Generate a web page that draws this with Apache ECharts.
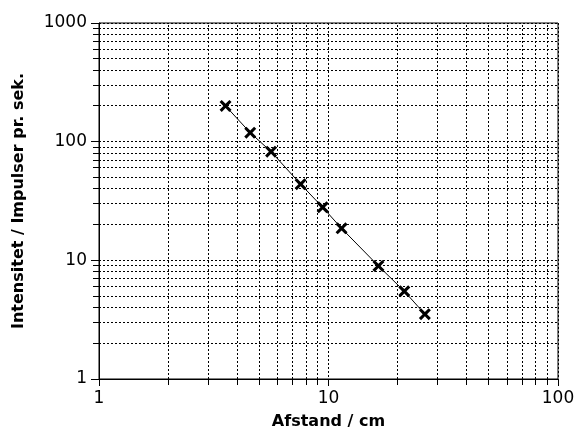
<!DOCTYPE html>
<html>
<head>
<meta charset="utf-8">
<script src="https://cdn.jsdelivr.net/npm/echarts@6/dist/echarts.min.js"></script>
<style>
html,body{margin:0;padding:0;background:#fff;}
#chart{width:577px;height:430px;}
</style>
</head>
<body>
<div id="chart"></div>
<script>
// Data
const distance = [3.56, 4.56, 5.62, 7.56, 9.43, 11.4, 16.5, 21.4, 26.3];
const intensity = [200, 119, 82.4, 43.8, 28.0, 18.6, 8.97, 5.49, 3.52];

// Minor grid values (log decades)
const xMinorGrid = [2,3,4,5,6,7,8,9,20,30,40,50,60,70,80,90];
const yMinorGrid = [2,3,4,5,6,7,8,9,20,30,40,50,60,70,80,90,200,300,400,500,600,700,800,900];

const xTitle = 'Afstand / cm';
const yTitle = 'Intensitet / Impulser pr. sek.';

const X_MIN = 1, X_MAX = 100, Y_MIN = 1, Y_MAX = 1000;
const dash = [2, 2];
const fontFam = 'DejaVu Sans, Liberation Sans, Arial, sans-serif';

function snap(v){ return Math.round(v - 0.5) + 0.5; }

const chart = echarts.init(document.getElementById('chart'), null, {renderer:'canvas'});

const xMark = 'path://M0,1.8L1.8,0L5,3.2L8.2,0L10,1.8L6.8,5L10,8.2L8.2,10L5,6.8L1.8,10L0,8.2L3.2,5Z';

chart.setOption({
  animation: false,
  backgroundColor: '#fff',
  grid: {
    left: 99, right: 19, top: 23, bottom: 51,
    outerBoundsMode: 'none', containLabel: false,
    show: true, borderColor: '#000', borderWidth: 1, backgroundColor: 'transparent'
  },
  xAxis: {
    type: 'log', logBase: 10, min: X_MIN, max: X_MAX,
    name: xTitle, nameLocation: 'middle', nameGap: 35,
    nameTextStyle: {color:'#000', fontSize: 16, fontWeight: 'bold', fontFamily: fontFam},
    axisLine: {show: true, lineStyle: {color:'#000', width: 1}},
    axisTick: {show: true, inside: false, length: 7, lineStyle: {color:'#000'}},
    axisLabel: {color:'#000', fontSize: 17, fontFamily: fontFam, margin: 11,
      formatter: v => String(Math.round(v))},
    splitLine: {show: true, lineStyle: {color:'#000', type: dash, width: 1}}
  },
  yAxis: {
    type: 'log', logBase: 10, min: Y_MIN, max: Y_MAX,
    name: yTitle, nameLocation: 'middle', nameGap: 72,
    nameTextStyle: {color:'#000', fontSize: 16, fontWeight: 'bold', fontFamily: fontFam},
    axisLine: {show: true, lineStyle: {color:'#000', width: 1}},
    axisTick: {show: true, inside: false, length: 8, lineStyle: {color:'#000'}},
    axisLabel: {color:'#000', fontSize: 17, fontFamily: fontFam, margin: 12,
      formatter: v => String(Math.round(v))},
    splitLine: {show: true, lineStyle: {color:'#000', type: dash, width: 1}}
  },
  series: [
    {
      type: 'custom', silent: true, z: 1, clip: false,
      data: xMinorGrid.map(v => [v, Y_MIN]),
      renderItem: function(params, api){
        const v = api.value(0);
        const p0 = api.coord([v, Y_MIN]);
        const p1 = api.coord([v, Y_MAX]);
        const x = snap(p0[0]);
        return {type:'group', children:[
          {type:'line', shape:{x1:x, y1:p0[1], x2:x, y2:p1[1]},
            style:{stroke:'#000', lineWidth:1, lineDash: dash}},
          {type:'line', shape:{x1:x, y1:p0[1], x2:x, y2:p0[1]+6},
            style:{stroke:'#000', lineWidth:1}}
        ]};
      }
    },
    {
      type: 'custom', silent: true, z: 1, clip: false,
      data: yMinorGrid.map(v => [X_MIN, v]),
      renderItem: function(params, api){
        const v = api.value(1);
        const p0 = api.coord([X_MIN, v]);
        const p1 = api.coord([X_MAX, v]);
        const y = snap(p0[1]);
        return {type:'group', children:[
          {type:'line', shape:{x1:p0[0], y1:y, x2:p1[0], y2:y},
            style:{stroke:'#000', lineWidth:1, lineDash: dash}},
          {type:'line', shape:{x1:p0[0]-6, y1:y, x2:p0[0], y2:y},
            style:{stroke:'#000', lineWidth:1}}
        ]};
      }
    },
    {
      type: 'line', z: 5,
      data: distance.map((d, i) => [d, intensity[i]]),
      symbol: xMark, symbolSize: 12,
      showSymbol: true,
      lineStyle: {color:'#000', width: 1},
      itemStyle: {color:'#000'}
    }
  ]
});
</script>
</body>
</html>
